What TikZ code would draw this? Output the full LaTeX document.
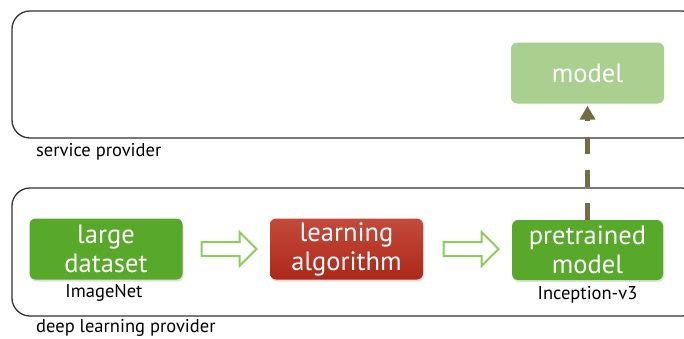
\documentclass[tikz,border=0pt]{standalone}
\usepackage{fontspec}
\setmainfont{PT Sans}
\usetikzlibrary{shapes.arrows,shadows,arrows.meta}
\definecolor{nvgreen}{HTML}{58A82A}
\definecolor{lightgreen}{HTML}{A9D08E}
\definecolor{redtop}{HTML}{C44A3C}
\definecolor{redbot}{HTML}{AC2818}
\definecolor{olivec}{HTML}{766B45}
\definecolor{arrowgreen}{HTML}{8CCB5E}
\definecolor{framec}{HTML}{333333}
\begin{document}
\begin{tikzpicture}[x=1pt,y=-1pt,
  region/.style={draw=framec,line width=1.3pt,rounded corners=18pt},
  box/.style={rounded corners=6pt,text=white,align=center,inner sep=0pt,
    font=\fontsize{26.5}{29}\selectfont,minimum width=153pt,minimum height=61pt},
  shad/.style={drop shadow={opacity=0.25,shadow xshift=1pt,shadow yshift=-2pt}},
  hollow/.style={single arrow,draw=arrowgreen,fill=white,line width=2pt,
    inner sep=6pt,minimum width=32pt,minimum height=55pt,single arrow head extend=10pt},
  lbl/.style={font=\fontsize{18.5}{20}\selectfont,text=black,inner sep=0pt}]
\useasboundingbox (0,0) rectangle (684,338);
% regions
\begin{scope}
\clip (0,0) rectangle (684,338);
\draw[region] (12,11) rectangle (700,138);
\draw[region] (12,188) rectangle (700,316);
\end{scope}
\node[lbl,anchor=west] (sp) at (36,152) {service provider};
\node[lbl,anchor=west] (dlp) at (36,328) {deep learning provider};
% boxes
\node[box,shad,fill=nvgreen] (ds) at (106,249) {large\\dataset};
\node[box,shad,top color=redtop,bottom color=redbot] (alg) at (346.5,249) {learning\\algorithm};
\node[box,shad,fill=nvgreen,minimum width=151pt,minimum height=60pt] (pre) at (587.5,250) {pretrained\\model};
\node[box,fill=lightgreen] (mdl) at (587.5,73) {model};
\node[lbl] (inet) at (104,293) {ImageNet};
\node[lbl] (incv) at (587.5,295) {Inception-v3};
% hollow arrows
\node[hollow] (a1) at (225.5,249) {};
\node[hollow] (a2) at (467.5,249) {};
% dashed arrow
\draw[olivec,line width=4.5pt,dash pattern=on 17pt off 16pt,
  -{Triangle[length=14pt,width=15pt]},shorten >=2pt] (pre.north) -- (mdl.south);
\end{tikzpicture}
\end{document}
